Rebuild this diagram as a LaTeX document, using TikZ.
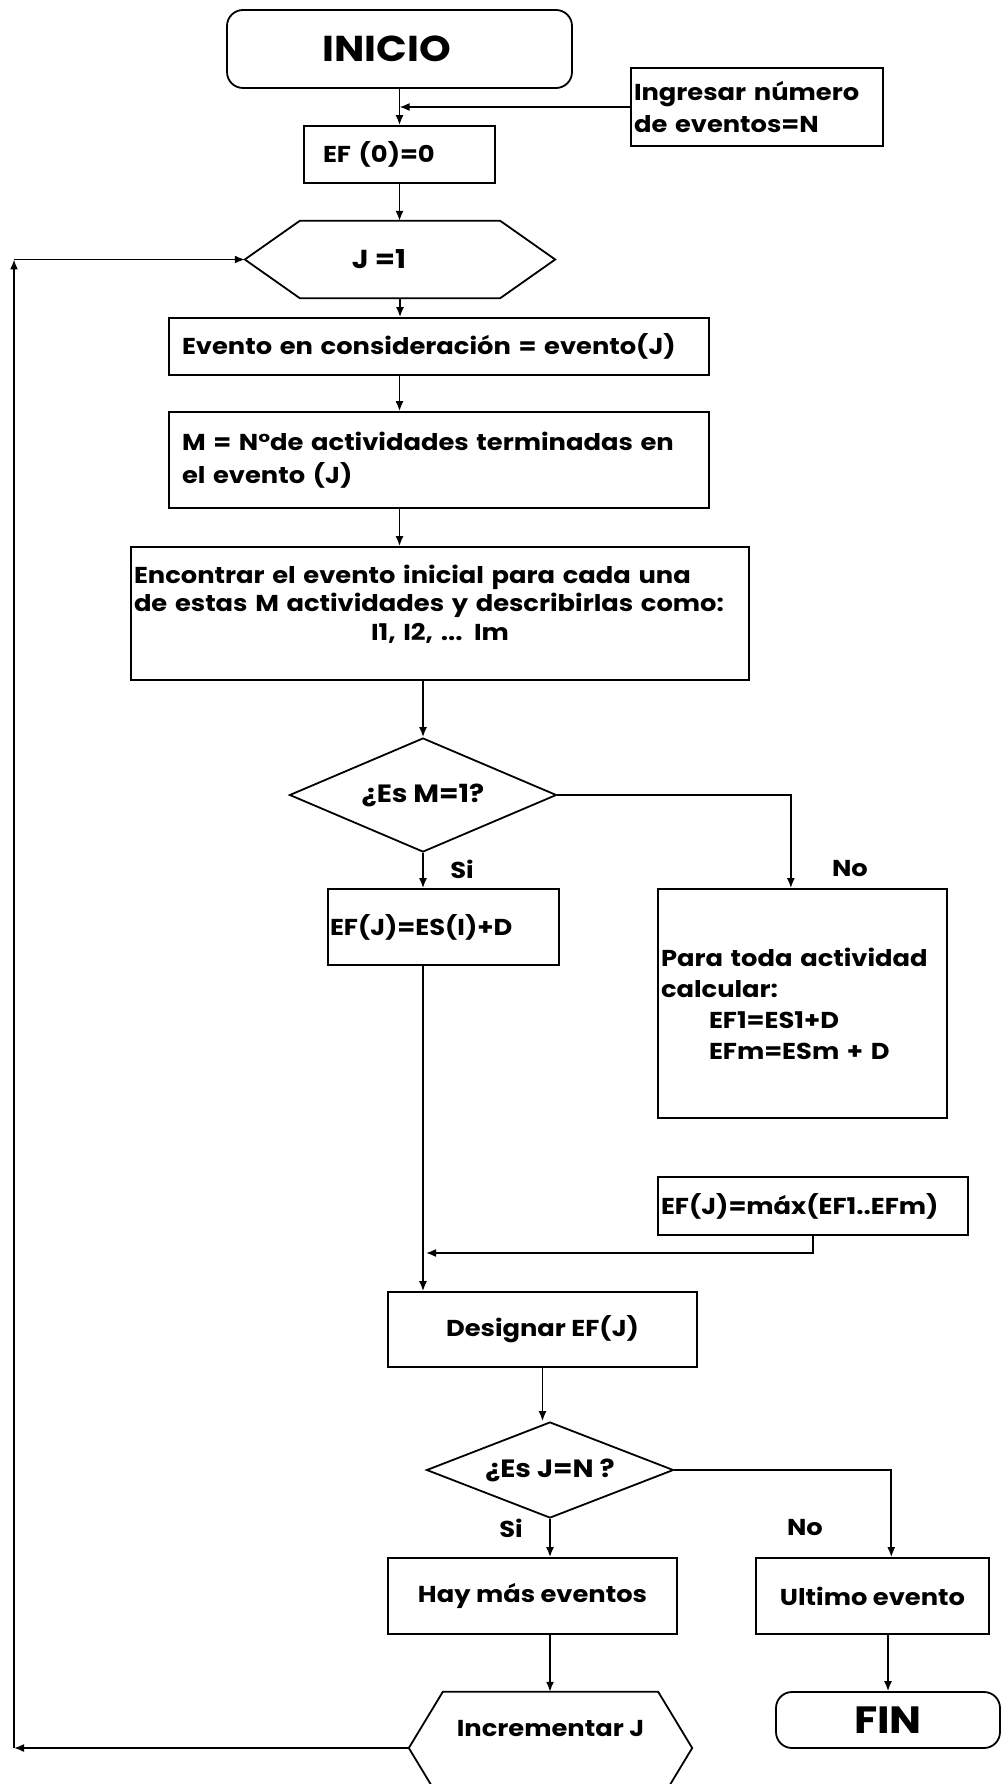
\documentclass[tikz,border=0pt]{standalone}
\usepackage{fontspec}
\setmainfont{Poppins}[FakeStretch=1.12]
\usetikzlibrary{shapes.geometric,calc,arrows.meta}
\begin{document}
\begin{tikzpicture}[x=1pt,y=-1pt,
  line/.style={draw=black,line width=1.8pt},
  arr/.style={draw=black,line width=1.6pt,-{Latex[length=10pt,width=8pt]}},
  txtfont/.style={font=\fontsize{23}{30}\selectfont\bfseries},
  bigfont/.style={font=\fontsize{25}{30}\selectfont\bfseries},
  box/.style={line,rectangle,inner sep=0pt,txtfont},
  term/.style={box,rounded corners=16pt,font=\fontsize{36}{40}\selectfont\bfseries},
  dec/.style={line,diamond,inner sep=0pt,bigfont},
  hexbody/.style={rectangle,inner sep=0pt,txtfont},
  lbl/.style={inner sep=0pt,txtfont}
]
\useasboundingbox (0,0) rectangle (1002,1784);
\fill[white] (0,0) rectangle (1002,1784);
\clip (0,0) rectangle (1002,1784);

% nodes
\node[term, minimum width=345pt, minimum height=78pt] (inicio) at (399.5,49) {INICIO\hspace*{26pt}};
\node[box, minimum width=252pt, minimum height=78pt, text width=246pt, align=left,
      font=\fontsize{23}{32}\selectfont\bfseries] (ingresar) at (757,107) {Ingresar número\\de eventos=N};
\node[box, minimum width=191pt, minimum height=57pt, text width=153pt, align=left] (ef0) at (399.5,154.5) {EF (0)=0};
\node[hexbody, minimum width=200pt, minimum height=77pt, font=\fontsize{26}{30}\selectfont\bfseries] (j1) at (400,259.5) {J =1\hspace*{42pt}};
\draw[line] (j1.north west) -- (j1.north east) -- ($(j1.east)+(55,0)$) -- (j1.south east)
  -- (j1.south west) -- ($(j1.west)+(-55,0)$) -- cycle;
\coordinate (j1W) at ($(j1.west)+(-55,0)$);
\node[box, minimum width=540pt, minimum height=57pt, text width=514pt, align=left] (evento) at (439,346.5) {Evento en consideración = evento(J)};
\node[box, minimum width=540pt, minimum height=96pt, text width=514pt, align=left,
      font=\fontsize{23}{33}\selectfont\bfseries] (mbox) at (439,460) {M = N°de actividades terminadas en\\el evento (J)};
\node[box, minimum width=618pt, minimum height=133pt, text width=612pt, align=left,
      font=\fontsize{23}{28.5}\selectfont\bfseries] (encontrar) at (440,613.5)
  {Encontrar el evento inicial para cada una\\de estas M actividades y describirlas como:\\\hspace*{\fill}I1, I2, ... Im\hspace*{\fill}\rule[-22pt]{0pt}{22pt}};
\node[dec, minimum width=267pt, minimum height=114pt, aspect=2.34] (dia1) at (423,795) {¿Es M=1?};
\node[box, minimum width=231pt, minimum height=76pt, text width=227pt, align=left] (efj) at (443.5,927) {EF(J)=ES(I)+D};
\node[box, minimum width=289pt, minimum height=229pt, text width=283pt, align=left,
      font=\fontsize{23}{31}\selectfont\bfseries] (nobox) at (802.5,1003.5)
  {Para toda actividad\\calcular:\\\hspace*{48pt}EF1=ES1+D\\\hspace*{48pt}EFm=ESm + D};
\node[box, minimum width=310pt, minimum height=58pt, text width=304pt, align=left] (maxbox) at (813,1206) {EF(J)=máx(EF1..EFm)};
\node[box, minimum width=309pt, minimum height=75pt] (designar) at (542.5,1329.5) {Designar EF(J)};
\node[dec, minimum width=247pt, minimum height=96pt, aspect=2.57] (dia2) at (550,1470) {¿Es J=N ?};
\node[box, minimum width=289pt, minimum height=76pt] (hay) at (532.5,1596) {Hay más eventos};
\node[box, minimum width=233pt, minimum height=76pt] (ultimo) at (872.5,1596) {Ultimo evento};
\node[hexbody, minimum width=215pt, minimum height=112pt] (inc) at (550.5,1748) {Incrementar J\rule[-40pt]{0pt}{40pt}};
\draw[line] (inc.north west) -- (inc.north east) -- ($(inc.east)+(34,0)$) -- (inc.south east)
  -- (inc.south west) -- ($(inc.west)+(-34,0)$) -- cycle;
\coordinate (incW) at ($(inc.west)+(-34,0)$);
\node[term, minimum width=224pt, minimum height=56pt, font=\fontsize{38}{40}\selectfont\bfseries] (fin) at (888,1720) {FIN};

% labels
\node[lbl] (si1) at (462,869) {Si};
\node[lbl] (no1) at (850,869) {No};
\node[lbl] (si2) at (511,1528) {Si};
\node[lbl] (no2) at (805,1528) {No};

% connectors
\draw[arr] (inicio.south) -- (ef0.north);
\draw[arr] (ingresar.west) -- (ingresar.west -| inicio.south);
\draw[arr] (ef0.south) -- (ef0.south |- j1.north);
\draw[arr] (j1.south) -- (j1.south |- evento.north);
\draw[arr] (inicio.south |- evento.south) -- (inicio.south |- mbox.north);
\draw[arr] (inicio.south |- mbox.south) -- (inicio.south |- encontrar.north);
\draw[arr] (dia1.north |- encontrar.south) -- (dia1.north);
\draw[arr] (dia1.south) -- (dia1.south |- efj.north);
\draw[arr] (dia1.east) -| ($(nobox.north west)!0.46!(nobox.north east)$);
\draw[arr] (dia1.south |- efj.south) -- (dia1.south |- designar.north);
\coordinate (join) at ($(dia1.south |- 0,1253)+(3,0)$);
\draw[arr] (maxbox.south) |- (join);
\draw[arr] (designar.south) -- (designar.south |- dia2.north);
\draw[arr] (dia2.south) -- (dia2.south |- hay.north);
\draw[arr] (dia2.east) -| ($(ultimo.north west)!0.58!(ultimo.north east)$);
\draw[arr] (dia2.south |- hay.south) -- (dia2.south |- inc.north);
\draw[arr] (fin.north |- ultimo.south) -- (fin.north);
\coordinate (LB) at (14,1748);
\coordinate (LT) at (14,259.5);
\draw[arr] (incW) -- (LB);
\draw[arr] (LB) -- (LT);
\draw[arr] (LT) -- (j1W);
\end{tikzpicture}
\end{document}
